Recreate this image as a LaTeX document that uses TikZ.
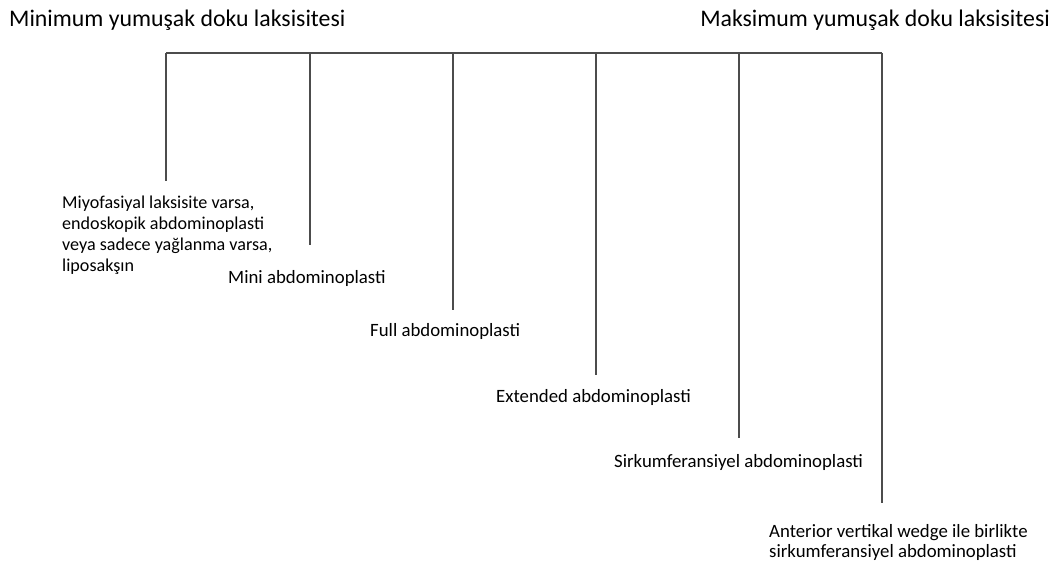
\documentclass[tikz,border=0pt]{standalone}
\usepackage{fontspec}
\setmainfont{Carlito}
\begin{document}
\begin{tikzpicture}[x=1pt,y=-1pt,
  bar/.style={draw=black!70,line width=1.2pt},
  lbl/.style={anchor=base west,inner sep=0pt,align=left,font=\fontsize{18.8}{21}\selectfont},
  head/.style={anchor=base west,inner sep=0pt,font=\fontsize{23.8}{28}\selectfont}]
\useasboundingbox (0,0) rectangle (1061,567);
\node[head] (hmin) at (9,27) {Minimum yumuşak doku laksisitesi};
\node[head,anchor=base east] (hmax) at (1050,27) {Maksimum yumuşak doku laksisitesi};
\foreach \i/\x/\y in {1/166/181,2/310/245,3/453/310,4/596/375,5/739/438,6/882/503}{
  \coordinate (t\i) at (\x,53);
  \coordinate (b\i) at (\x,\y);
}
\draw[bar] (t1) -- (t6);
\foreach \i in {1,...,6}{\draw[bar] (t\i) -- (b\i);}
\node[lbl,font=\fontsize{18.1}{21}\selectfont] (l1) at (62,271) {Miyofasiyal laksisite varsa,\\endoskopik abdominoplasti\\veya sadece yağlanma varsa,\\liposakşın};
\node[lbl] (l2) at (228,283) {Mini abdominoplasti};
\node[lbl] (l3) at (370,336) {Full abdominoplasti};
\node[lbl] (l4) at (496,402) {Extended abdominoplasti};
\node[lbl] (l5) at (614,467) {Sirkumferansiyel abdominoplasti};
\node[lbl,font=\fontsize{18.8}{20}\selectfont] (l6) at (769,557) {Anterior vertikal wedge ile birlikte\\sirkumferansiyel abdominoplasti};
\end{tikzpicture}
\end{document}
